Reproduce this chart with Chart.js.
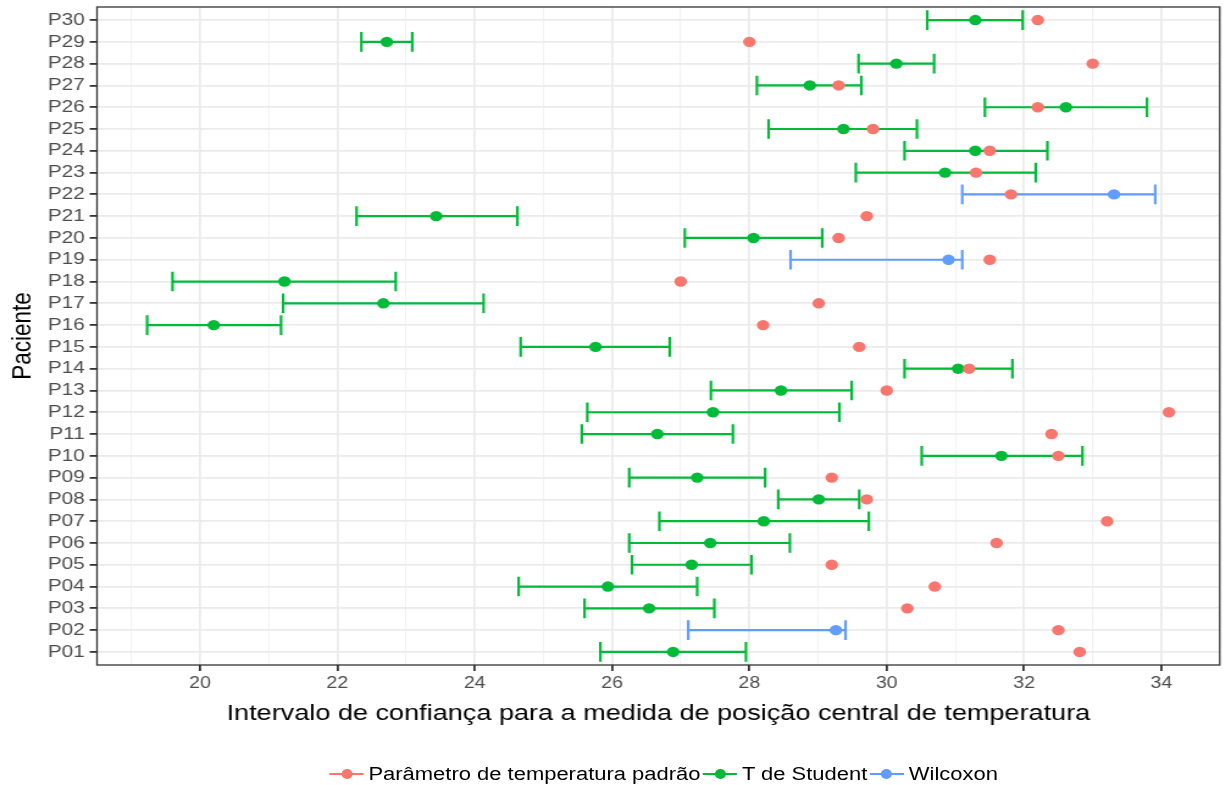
<!DOCTYPE html>
<html>
<head>
<meta charset="utf-8">
<script src="https://cdn.jsdelivr.net/npm/chart.js@4.4.1/dist/chart.umd.min.js"></script>
<style>
  html, body { margin: 0; padding: 0; background: #fff; }
  /* the reference is stretched sideways, so the whole figure is drawn narrow and scaled */
  #figura { position: relative; width: 1005px; height: 785px; transform: scaleX(1.22); transform-origin: 0 0; }
  #grafico { position: absolute; left: 0; top: 0; }
  #legenda { position: absolute; left: 270px; top: 764px; height: 20px; display: flex; align-items: center;
             font-family: "Liberation Sans", Arial, sans-serif; font-size: 18px; color: #000; white-space: nowrap; }
  .chave { position: relative; width: 28px; height: 20px; margin-right: 4px; }
  .chave::before { content: ''; position: absolute; left: 0; right: 0; top: 9px; height: 2px; background: var(--c); }
  .chave::after { content: ''; position: absolute; left: 9.5px; top: 5px; width: 9px; height: 10px; border-radius: 50%; background: var(--c); }
  .texto { margin-right: 2px; }
</style>
</head>
<body>
<div id="figura">
  <canvas id="grafico" width="1005" height="785"></canvas>
  <div id="legenda">
    <span class="chave" style="--c:#F8766D"></span><span class="texto">Parâmetro de temperatura padrão</span>
    <span class="chave" style="--c:#00BA38"></span><span class="texto">T de Student</span>
    <span class="chave" style="--c:#619CFF"></span><span class="texto">Wilcoxon</span>
  </div>
</div>
<script>
'use strict';

//Pacientes (P01 at the bottom)
var pacientes = ['P01', 'P02', 'P03', 'P04', 'P05', 'P06', 'P07', 'P08', 'P09', 'P10',
  'P11', 'P12', 'P13', 'P14', 'P15', 'P16', 'P17', 'P18', 'P19', 'P20',
  'P21', 'P22', 'P23', 'P24', 'P25', 'P26', 'P27', 'P28', 'P29', 'P30'];

//Which test gave the interval
var metodo = ['T', 'W', 'T', 'T', 'T', 'T', 'T', 'T', 'T', 'T',
  'T', 'T', 'T', 'T', 'T', 'T', 'T', 'T', 'W', 'T',
  'T', 'W', 'T', 'T', 'T', 'T', 'T', 'T', 'T', 'T'];

//Interval limits and central value
var inferior = [25.83, 27.11, 25.60, 24.64, 26.29, 26.25, 26.69, 28.42, 26.25, 30.51,
  25.56, 25.64, 27.44, 30.26, 24.67, 19.23, 21.21, 19.60, 28.60, 27.06,
  22.28, 31.10, 29.55, 30.26, 28.28, 31.43, 28.11, 29.59, 22.35, 30.59];
var central = [26.89, 29.26, 26.54, 25.94, 27.16, 27.43, 28.21, 29.01, 27.24, 31.67,
  26.66, 27.47, 28.46, 31.04, 25.76, 20.20, 22.67, 21.23, 30.90, 28.06,
  23.44, 33.31, 30.85, 31.29, 29.37, 32.61, 28.88, 30.14, 22.72, 31.29];
var superior = [27.95, 29.40, 27.49, 27.24, 28.03, 28.59, 29.74, 29.60, 28.23, 32.85,
  27.76, 29.31, 29.49, 31.83, 26.84, 21.18, 24.13, 22.85, 31.10, 29.06,
  24.62, 33.91, 32.17, 32.34, 30.44, 33.79, 29.63, 30.69, 23.09, 31.98];

//Parâmetro de temperatura padrão
var padrao = [32.81, 32.50, 30.30, 30.70, 29.20, 31.60, 33.21, 29.71, 29.20, 32.50,
  32.40, 34.11, 30.00, 31.20, 29.60, 28.20, 29.01, 27.00, 31.50, 29.30,
  29.71, 31.81, 31.30, 31.50, 29.80, 32.20, 29.30, 33.00, 28.00, 32.20];

var xTicks = [20, 22, 24, 26, 28, 30, 32, 34];

var vermelho = '#F8766D';
var verde = '#00BA38';
var azul = '#619CFF';
var fonte = '"Liberation Sans", Arial, sans-serif';

//Error bar segments (whiskers + caps) for one method, broken by gaps
function barras(m) {
  var pts = [];
  var gap = {x: null, y: null};
  for (var i = 0; i < pacientes.length; i++) {
    if (metodo[i] !== m) continue;
    var y = i + 1;
    pts.push({x: inferior[i], y: y - 0.45}, {x: inferior[i], y: y + 0.45}, gap);
    pts.push({x: inferior[i], y: y}, {x: superior[i], y: y}, gap);
    pts.push({x: superior[i], y: y - 0.45}, {x: superior[i], y: y + 0.45}, gap);
  }
  return pts;
}

function pontos(valores, m) {
  var pts = [];
  for (var i = 0; i < pacientes.length; i++) {
    if (m && metodo[i] !== m) continue;
    pts.push({x: valores[i], y: i + 1});
  }
  return pts;
}

//Panel border drawn over everything, like theme_bw
var moldura = {
  id: 'moldura',
  afterDraw: function (chart) {
    var a = chart.chartArea;
    var ctx = chart.ctx;
    ctx.save();
    ctx.strokeStyle = '#333333';
    ctx.lineWidth = 1.3;
    ctx.strokeRect(a.left, a.top, a.right - a.left, a.bottom - a.top);
    ctx.restore();
  }
};

var linhaBase = {showLine: true, spanGaps: false, pointRadius: 0, borderWidth: 2.2, borderCapStyle: 'butt', order: 3};
var pontoBase = {pointRadius: 5.2, pointHoverRadius: 5.2, borderWidth: 0};

var ctx = document.getElementById('grafico').getContext('2d');
var chart = new Chart(ctx, {
  type: 'scatter',
  data: {
    datasets: [
      Object.assign({label: 'T de Student', data: barras('T'), borderColor: verde}, linhaBase),
      Object.assign({label: 'Wilcoxon', data: barras('W'), borderColor: azul}, linhaBase),
      Object.assign({label: 'T de Student', data: pontos(central, 'T'), backgroundColor: verde, order: 2}, pontoBase),
      Object.assign({label: 'Wilcoxon', data: pontos(central, 'W'), backgroundColor: azul, order: 2}, pontoBase),
      Object.assign({label: 'Parâmetro de temperatura padrão', data: pontos(padrao), backgroundColor: vermelho, order: 1}, pontoBase)
    ]
  },
  plugins: [moldura],
  options: {
    responsive: false,
    animation: false,
    layout: {padding: {top: 7, right: 2, left: 0, bottom: 0}},
    plugins: {legend: {display: false}, tooltip: {enabled: false}},
    scales: {
      x: {
        type: 'linear',
        min: 18.5,
        max: 34.85,
        afterFit: function (s) { s.height = 120; s.paddingLeft = 0; s.paddingRight = 0; },
        border: {display: false},
        grid: {
          color: function (c) { return c.tick && c.tick.value % 2 === 0 ? '#ebebeb' : '#f2f2f2'; },
          lineWidth: function (c) { return c.tick && c.tick.value % 2 === 0 ? 1.8 : 1.1; },
          tickColor: function (c) { return c.tick && xTicks.indexOf(c.tick.value) >= 0 ? '#333333' : 'rgba(0,0,0,0)'; },
          tickLength: 6
        },
        ticks: {
          stepSize: 1,
          includeBounds: false,
          autoSkip: false,
          maxRotation: 0,
          padding: 3,
          color: '#4d4d4d',
          font: {family: fonte, size: 16},
          callback: function (v) { return xTicks.indexOf(v) >= 0 ? String(v) : ''; }
        },
        title: {
          display: true,
          text: 'Intervalo de confiança para a medida de posição central de temperatura',
          color: '#000',
          font: {family: fonte, size: 22.2},
          padding: {top: 0, bottom: 58}
        }
      },
      y: {
        type: 'linear',
        min: 0.4,
        max: 30.6,
        afterFit: function (s) { s.width = 79.5; s.paddingTop = 0; s.paddingBottom = 0; },
        border: {display: false},
        grid: {color: '#ebebeb', lineWidth: 1.8, tickColor: '#333333', tickLength: 6},
        ticks: {
          stepSize: 1,
          includeBounds: false,
          autoSkip: false,
          padding: 4,
          color: '#4d4d4d',
          font: {family: fonte, size: 17},
          callback: function (v) { return pacientes[v - 1] || ''; }
        },
        title: {
          display: true,
          text: 'Paciente',
          color: '#000',
          font: {family: fonte, size: 22.5},
          padding: {top: 5, bottom: 0}
        }
      }
    }
  }
});
</script>
</body>
</html>
